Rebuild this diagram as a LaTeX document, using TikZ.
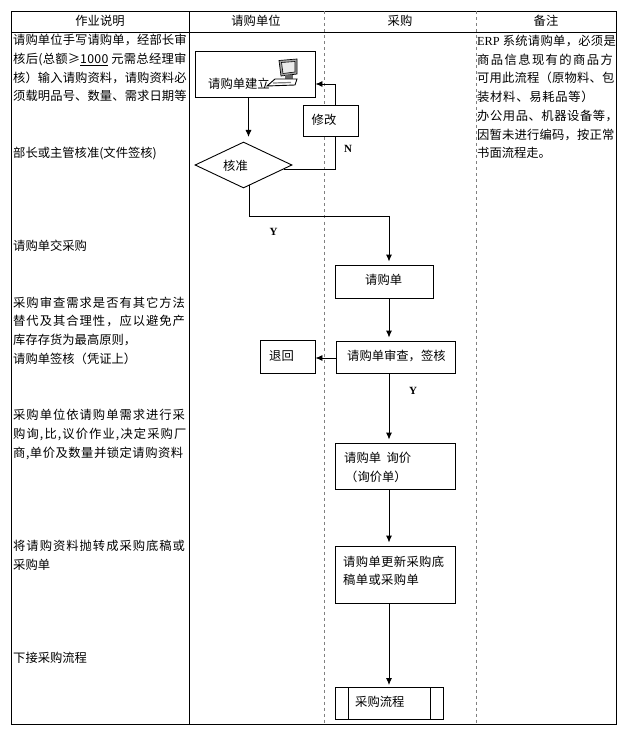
\documentclass[tikz,border=0pt]{standalone}
\usepackage{fontspec}
\setmainfont{Noto Sans CJK SC}
\newfontfamily\serifen{Liberation Serif}
\usetikzlibrary{shapes.geometric, arrows.meta, positioning}
\newcommand{\lsp}[2]{{\addfontfeature{LetterSpace=#1}#2}}
\tikzset{
    box/.style={rectangle, draw, fill=white, inner sep=0pt, line width=0.9pt},
    txt/.style={inner sep=0pt, anchor=west, font=\fontsize{12.3}{14}\selectfont},
    head/.style={inner sep=0pt, font=\fontsize{12.3}{14}\selectfont},
    col/.style={inner sep=0pt, anchor=north west, align=left, font=\fontsize{12.3}{18.7}\selectfont},
    arr/.style={-{Latex[length=7pt, width=6pt]}, line width=0.9pt},
    arrs/.style={arr, shorten >=3pt},
    lin/.style={line width=0.9pt},
    yn/.style={inner sep=0pt, font=\fontsize{11}{13}\serifen\bfseries},
    swim/.style={gray, dashed, line width=0.8pt},
}

\begin{document}
\begin{tikzpicture}[x=1pt, y=-1pt]
\useasboundingbox (0,0) rectangle (626,735);

% table
\draw[lin] (11.5,11.5) rectangle (616,724);
\draw[lin] (11.5,32) -- (616,32);
\draw[lin] (189,11.5) -- (189,724);
\draw[swim] (324.5,11.5) -- (324.5,724);
\draw[swim] (476,11.5) -- (476,724);

\node[head] (h1) at (100,20.5) {作业说明};
\node[head] (h2) at (256,20.5) {请购单位};
\node[head] (h3) at (400,20.5) {采购};
\node[head] (h4) at (546,20.5) {备注};

% left column
\node[col] (c1) at (13,34) {\lsp{0.8}{请购单位手写请购单，经部长审}\\\lsp{2.2}{核后(总额≥\underline{1000} 元需总经理审}\\\lsp{0.8}{核）输入请购资料，请购资料必}\\\lsp{0.8}{须载明品号、数量、需求日期等}};
\node[txt] (c2) at (13,153) {部长或主管核准(文件签核)};
\node[txt] (c3) at (13,246) {请购单交采购};
\node[col] (c4) at (13,296.5) {\lsp{8.1}{采购审查需求是否有其它方法}\\\lsp{8.1}{替代及其合理性，应以避免产}\\库存存货为最高原则，\\请购单签核（凭证上）};
\node[col] (c5) at (13,409) {\lsp{8.1}{采购单位依请购单需求进行采}\\\lsp{8.9}{购询,比,议价作业,决定采购厂}\\\lsp{4.2}{商,单价及数量并锁定请购资料}};
\node[col] (c6) at (13,540) {\lsp{8.1}{将请购资料抛转成采购底稿或}\\采购单};
\node[txt] (c7) at (13,658) {下接采购流程};

% right column
\node[col] (r1) at (477,35) {\lsp{2.4}{{\serifen ERP} 系统请购单，必须是}\\\lsp{11.4}{商品信息现有的商品方}\\\lsp{1.5}{可用此流程（原物料、包}\\\lsp{5.9}{装材料、易耗品等）}\\\lsp{4.5}{办公用品、机器设备等，}\\\lsp{1.5}{因暂未进行编码，按正常}\\书面流程走。};

% flow boxes
\node[box, minimum width=120pt, minimum height=46pt] (create) at (255,74) {};
\node[box, minimum width=55pt, minimum height=31pt] (fix) at (330.5,120.5) {};
\node[box, diamond, aspect=2.1, minimum width=97pt, minimum height=46pt] (check) at (243.5,165) {};
\node[box, minimum width=98pt, minimum height=33pt] (order) at (384,281.5) {};
\node[box, minimum width=119pt, minimum height=32.5pt] (review) at (395.5,357.25) {};
\node[box, minimum width=55pt, minimum height=33pt] (back) at (287.5,356.5) {};
\node[box, minimum width=120pt, minimum height=46pt] (quote) at (395,466) {};
\node[box, minimum width=120pt, minimum height=57pt] (update) at (395,574.5) {};
\node[box, minimum width=108.5pt, minimum height=32pt] (proc) at (389.5,703) {};
\draw[lin] (348,687) -- (348,719);
\draw[lin] (430,687) -- (430,719);

% box labels
\node[txt] (t1) at (208,84) {请购单建立};
\node[txt] (t2) at (311.5,120) {修改};
\node[txt] (t3) at (223,165.5) {核准};
\node[txt] (t4) at (365,280) {请购单};
\node[txt] (t5) at (347,356) {请购单审查，签核};
\node[txt] (t6) at (269,356) {退回};
\node[txt] (t7) at (344,458) {请购单\ \ 询价};
\node[txt] (t8) at (345,477) {（询价单）};
\node[txt] (t9) at (343,562) {\lsp{3}{请购单更新采购底}};
\node[txt] (t10) at (343,580) {\lsp{3}{稿单或采购单}};
\node[txt] (t11) at (355,702) {采购流程};

% computer
\draw[fill=black!35, line width=0.7pt] (279,60.5) -- (297,59) -- (297,74) -- (281,76) -- cycle;
\draw[fill=black!8, line width=0.6pt] (281.5,62.5) -- (295,61.5) -- (295,72) -- (283,73.5) -- cycle;
\fill[black!60] (285,75.5) rectangle (293,79);
\draw[fill=white, lin] (267,86) -- (275,79) -- (297,79) -- (295,85) -- cycle;
\draw[black!50, line width=1.2pt] (273,83) -- (291,82.5);

% connectors
\coordinate (nstart) at (284,169);
\coordinate (nout) at (335,169);
\coordinate (nup) at (335,84);
\coordinate (ystart) at (249.5,185.2);
\coordinate (yleft) at (249.5,216);
\coordinate (yright) at (389,216);
\coordinate (adown) at (248.5,97);
\coordinate (atip) at (248.5,137);

\draw[lin] (nstart) -- (nout) -- (fix.south -| nout);
\draw[arr] (fix.north -| nup) -- (nup) -- (create.east |- nup);
\draw[arr] (adown) -- (atip);
\draw[lin] (ystart) -- (yleft) -- (yright);
\draw[arrs] (yright) -- (yright |- order.north);
\draw[arrs] (order.south -| yright) -- (yright |- review.north);
\draw[arr] (review.west |- 0,358) -- (back.east |- 0,358);
\draw[arrs] (review.south -| yright) -- (yright |- quote.north);
\draw[arrs] (quote.south -| yright) -- (yright |- update.north);
\draw[arr, shorten >=1.5pt] (update.south -| yright) -- (yright |- proc.north);

\node[yn] (ylab1) at (273.5,232) {Y};
\node[yn] (nlab) at (348,148.5) {N};
\node[yn] (ylab2) at (413,391) {Y};

\end{tikzpicture}
\end{document}
